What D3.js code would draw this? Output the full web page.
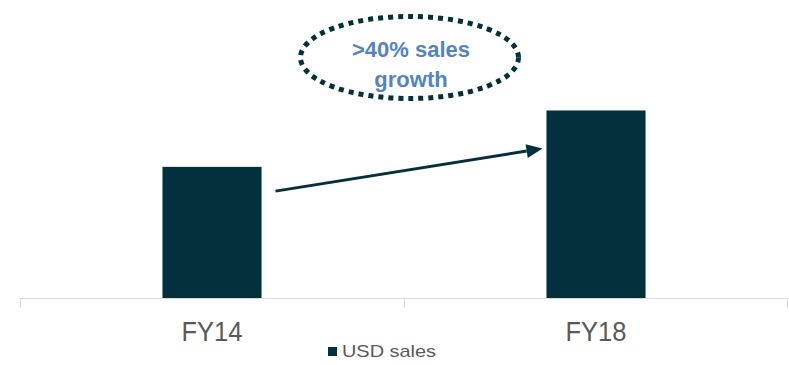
<!DOCTYPE html>
<html>
<head>
<meta charset="utf-8">
<script src="https://cdn.jsdelivr.net/npm/d3@7"></script>
<style>
  html, body { margin: 0; padding: 0; background: #ffffff; }
  svg { display: block; }
</style>
</head>
<body>
<svg id="chart" width="789" height="365"></svg>
<script>
// Sales index by fiscal year (FY14 = 100)
const categories = ["FY14", "FY18"];
const salesValues = [100, 143];
const seriesName = "USD sales";
const calloutLines = [">40% sales", "growth"];

const W = 789, H = 365;
const plot = { left: 20, right: 788, top: 20, bottom: 298 };
const barColor = "#02303c";
const labelFont = "Liberation Sans, Arial, sans-serif";

const svg = d3.select("#chart");

const x = d3.scaleBand()
  .domain(categories)
  .range([plot.left, plot.right])
  .paddingInner(0.742)
  .paddingOuter(0.371);

const y = d3.scaleLinear()
  .domain([0, 212])
  .range([plot.bottom, plot.top]);

// bars
svg.append("g")
  .selectAll("rect")
  .data(categories)
  .join("rect")
  .attr("x", d => x(d))
  .attr("y", (d, i) => y(salesValues[i]))
  .attr("width", x.bandwidth())
  .attr("height", (d, i) => y(0) - y(salesValues[i]))
  .attr("fill", barColor);

// category axis with ticks between groups
const step = x.step();
const tickPositions = d3.range(categories.length + 1).map(i => plot.left + i * step);
const axisG = svg.append("g");
axisG.append("line")
  .attr("x1", plot.left).attr("x2", plot.right)
  .attr("y1", y(0) + 0.5).attr("y2", y(0) + 0.5)
  .attr("stroke", "#d9d9d9").attr("stroke-width", 1);
axisG.selectAll("line.tick")
  .data(tickPositions)
  .join("line")
  .attr("class", "tick")
  .attr("x1", d => Math.min(Math.round(d), plot.right - 1) + 0.5)
  .attr("x2", d => Math.min(Math.round(d), plot.right - 1) + 0.5)
  .attr("y1", y(0)).attr("y2", y(0) + 10)
  .attr("stroke", "#d9d9d9").attr("stroke-width", 1);
axisG.selectAll("text")
  .data(categories)
  .join("text")
  .attr("x", d => x(d) + x.bandwidth() / 2)
  .attr("y", 341)
  .attr("text-anchor", "middle")
  .attr("font-family", labelFont)
  .attr("font-size", 27)
  .attr("textLength", 61)
  .attr("lengthAdjust", "spacingAndGlyphs")
  .attr("fill", "#595959")
  .text(d => d);

// legend
const legend = svg.append("g");
legend.append("rect")
  .attr("x", 328).attr("y", 347)
  .attr("width", 9).attr("height", 9)
  .attr("fill", barColor);
legend.append("text")
  .attr("x", 342).attr("y", 357)
  .attr("font-family", labelFont)
  .attr("font-size", 17)
  .attr("textLength", 94)
  .attr("lengthAdjust", "spacingAndGlyphs")
  .attr("fill", "#595959")
  .text(seriesName);

// growth arrow between the two bars
const x0 = x(categories[0]) + x.bandwidth() + 14;
const y0 = y(salesValues[0] * 0.815);
const x1 = x(categories[1]) - 4;
const y1 = y(salesValues[1] * 0.797);
const ang = Math.atan2(y1 - y0, x1 - x0);
const headLen = 16, headHalf = 7;
const bx = x1 - headLen * Math.cos(ang), by = y1 - headLen * Math.sin(ang);
svg.append("line")
  .attr("x1", x0).attr("y1", y0)
  .attr("x2", bx).attr("y2", by)
  .attr("stroke", barColor).attr("stroke-width", 3);
svg.append("path")
  .attr("d", `M${x1},${y1}L${bx - headHalf * Math.sin(ang)},${by + headHalf * Math.cos(ang)}L${bx + headHalf * Math.sin(ang)},${by - headHalf * Math.cos(ang)}Z`)
  .attr("fill", barColor);

// dotted callout
const cx = 409.5, cy = 57.5;
svg.append("ellipse")
  .attr("cx", cx).attr("cy", cy)
  .attr("rx", 109).attr("ry", 41)
  .attr("fill", "none")
  .attr("stroke", barColor)
  .attr("stroke-width", 5)
  .attr("stroke-dasharray", "5 5");
svg.append("g")
  .selectAll("text")
  .data(calloutLines)
  .join("text")
  .attr("x", cx + 1.5)
  .attr("y", (d, i) => 57 + i * 30)
  .attr("text-anchor", "middle")
  .attr("font-family", labelFont)
  .attr("font-weight", "bold")
  .attr("font-size", 22)
  .attr("fill", "#5283c2")
  .text(d => d);
</script>
</body>
</html>
